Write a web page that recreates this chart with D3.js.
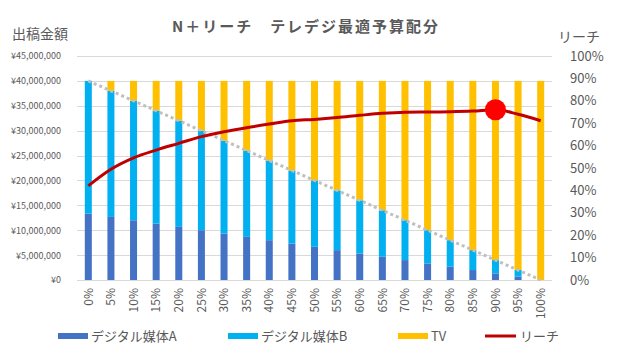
<!DOCTYPE html>
<html>
<head>
<meta charset="utf-8">
<script src="https://cdn.jsdelivr.net/npm/d3@7"></script>
<style>
  body { margin: 0; background: #fff; }
  text { font-family: "Noto Sans CJK JP", "Noto Sans", sans-serif; fill: #595959; }
</style>
</head>
<body>
<svg width="617" height="364"></svg>
<script>
// TV share of budget
var categories = ["0%","5%","10%","15%","20%","25%","30%","35%","40%","45%","50%",
                  "55%","60%","65%","70%","75%","80%","85%","90%","95%","100%"];

// spend, yen
var mediaA = [13330000,12670000,12000000,11330000,10670000,10000000,9330000,8670000,8000000,7330000,6670000,
              6000000,5330000,4670000,4000000,3330000,2670000,2000000,1330000,670000,0];
var mediaB = [26670000,25330000,24000000,22670000,21330000,20000000,18670000,17330000,16000000,14670000,13330000,
              12000000,10670000,9330000,8000000,6670000,5330000,4000000,2670000,1330000,0];
var tv = [0,2000000,4000000,6000000,8000000,10000000,12000000,14000000,16000000,18000000,20000000,
          22000000,24000000,26000000,28000000,30000000,32000000,34000000,36000000,38000000,40000000];

// reach
var reach = [0.42,0.494,0.545,0.58,0.61,0.64,0.662,0.68,0.696,0.711,0.717,
             0.725,0.735,0.744,0.749,0.75,0.751,0.754,0.76,0.74,0.711];
var bestIndex = 18;

var leftTicks = [0,5000000,10000000,15000000,20000000,25000000,30000000,35000000,40000000,45000000];
var rightTicks = [0,0.1,0.2,0.3,0.4,0.5,0.6,0.7,0.8,0.9,1];

var seriesNames = ["デジタル媒体A","デジタル媒体B","TV"];
var colors = ["#4472C4","#00B0F0","#FFC000"];

var svg = d3.select("svg"),
    margin = {top: 56, right: 65, bottom: 84, left: 77},
    width = +svg.attr("width"),
    height = +svg.attr("height");

var x = d3.scaleBand()
    .domain(categories)
    .range([margin.left, width - margin.right])
    .paddingInner(0.69)
    .paddingOuter(0.345);

var y = d3.scaleLinear()
    .domain([0, 45000000])
    .range([height - margin.bottom, margin.top]);

var y2 = d3.scaleLinear()
    .domain([0, 1])
    .range([height - margin.bottom, margin.top]);

// gridlines
svg.append("g")
    .selectAll("line")
    .data(leftTicks)
    .enter().append("line")
      .attr("x1", margin.left)
      .attr("x2", width - margin.right)
      .attr("y1", function(d) { return Math.round(y(d)) + 0.5; })
      .attr("y2", function(d) { return Math.round(y(d)) + 0.5; })
      .attr("stroke", "#D9D9D9")
      .attr("stroke-width", 1);

// left axis
var yen = function(d) { return "¥" + d3.format(",")(d); };
svg.append("g")
    .attr("transform", "translate(" + (margin.left - 13) + ",0)")
    .call(d3.axisLeft(y).tickValues(leftTicks).tickFormat(yen).tickSize(0))
    .call(function(g) { g.select(".domain").remove(); })
    .selectAll("text")
      .attr("fill", "#595959")
      .style("font-size", "9px");

// right axis
svg.append("g")
    .attr("transform", "translate(" + (width - margin.right + 15) + ",0)")
    .call(d3.axisRight(y2).tickValues(rightTicks).tickFormat(d3.format(".0%")).tickSize(0))
    .call(function(g) { g.select(".domain").remove(); })
    .selectAll("text")
      .attr("fill", "#595959")
      .style("font-size", "13px");

// stacked bars
var table = categories.map(function(c, i) {
  return {cat: c, a: mediaA[i], b: mediaB[i], tv: tv[i]};
});
var stack = d3.stack().keys(["a","b","tv"])(table);

svg.append("g")
  .selectAll("g")
  .data(stack)
  .enter().append("g")
    .attr("fill", function(d, i) { return colors[i]; })
  .selectAll("rect")
  .data(function(d) { return d; })
  .enter().append("rect")
    .attr("x", function(d) { return x(d.data.cat); })
    .attr("y", function(d) { return y(d[1]); })
    .attr("width", x.bandwidth())
    .attr("height", function(d) { return y(d[0]) - y(d[1]); });

// x labels
svg.append("g")
    .attr("transform", "translate(0," + (height - margin.bottom) + ")")
    .call(d3.axisBottom(x).tickSize(0))
    .call(function(g) { g.select(".domain").remove(); })
    .selectAll("text")
      .attr("fill", "#595959")
      .style("font-size", "12px")
      .attr("transform", "rotate(-90)")
      .attr("x", -8)
      .attr("y", 0)
      .attr("dy", "0.35em")
      .attr("text-anchor", "end");

// dotted digital total line
var digital = mediaA.map(function(v, i) { return v + mediaB[i]; });
svg.append("path")
    .datum(digital)
    .attr("fill", "none")
    .attr("stroke", "#BFBFBF")
    .attr("stroke-width", 3)
    .attr("stroke-dasharray", "3,3")
    .attr("d", d3.line()
        .x(function(d, i) { return x(categories[i]) + x.bandwidth() / 2; })
        .y(function(d) { return y(d); }));

// reach line
svg.append("path")
    .datum(reach)
    .attr("fill", "none")
    .attr("stroke", "#C00000")
    .attr("stroke-width", 3)
    .attr("stroke-linejoin", "round")
    .attr("d", d3.line()
        .curve(d3.curveMonotoneX)
        .x(function(d, i) { return x(categories[i]) + x.bandwidth() / 2; })
        .y(function(d) { return y2(d); }));

svg.append("circle")
    .attr("cx", x(categories[bestIndex]) + x.bandwidth() / 2)
    .attr("cy", y2(reach[bestIndex]))
    .attr("r", 10.5)
    .attr("fill", "#FF0000");

// titles
svg.append("text")
    .attr("x", 305)
    .attr("y", 32)
    .attr("text-anchor", "middle")
    .attr("font-weight", "bold")
    .attr("textLength", 266)
    .attr("lengthAdjust", "spacing")
    .style("font-size", "15px")
    .text("N＋リーチ　テレデジ最適予算配分");

svg.append("text")
    .attr("x", 12)
    .attr("y", 39)
    .style("font-size", "14px")
    .text("出稿金額");

svg.append("text")
    .attr("x", 558)
    .attr("y", 42)
    .style("font-size", "14px")
    .text("リーチ");

// legend
var legendX = [58, 228, 398, 485];
var legend = svg.append("g");
seriesNames.forEach(function(name, i) {
  legend.append("rect")
      .attr("x", legendX[i])
      .attr("y", 333)
      .attr("width", 30)
      .attr("height", 6)
      .attr("fill", colors[i]);
  legend.append("text")
      .attr("x", legendX[i] + 33)
      .attr("y", 341)
      .style("font-size", "13px")
      .text(name);
});
legend.append("line")
    .attr("x1", legendX[3])
    .attr("x2", legendX[3] + 31)
    .attr("y1", 336)
    .attr("y2", 336)
    .attr("stroke", "#C00000")
    .attr("stroke-width", 3);
legend.append("text")
    .attr("x", legendX[3] + 35)
    .attr("y", 341)
    .style("font-size", "13px")
    .text("リーチ");
</script>
</body>
</html>
